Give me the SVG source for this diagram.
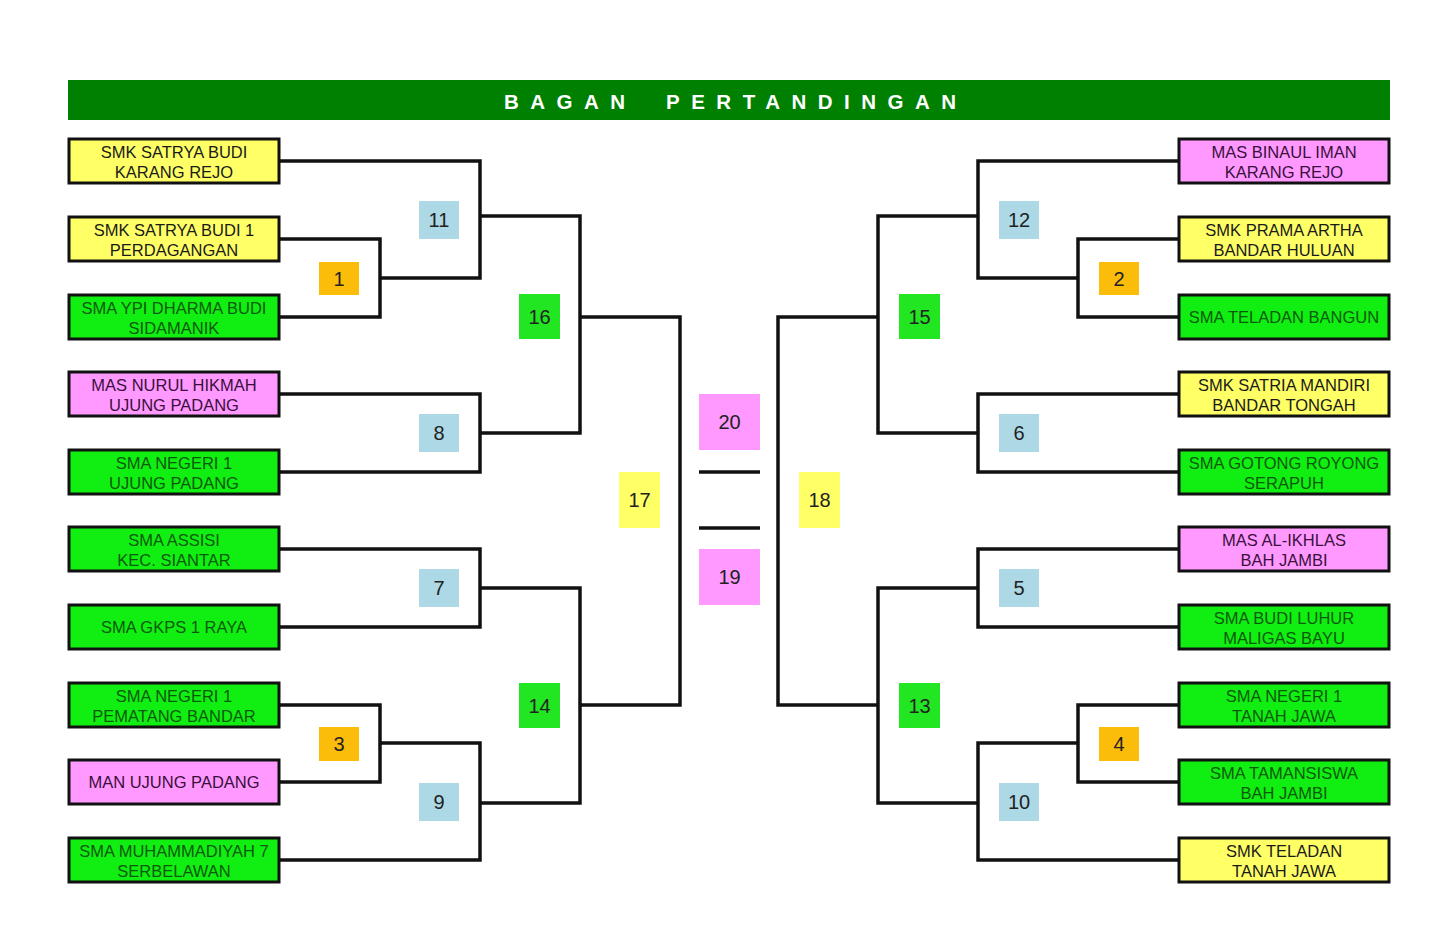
<svg xmlns="http://www.w3.org/2000/svg" width="1440" height="941" viewBox="0 0 1440 941">
<style>
.team rect{stroke:#111;stroke-width:3}
.team text{font-family:"Liberation Sans",Arial,sans-serif;font-size:16.5px;text-anchor:middle}
.y rect{fill:#ffff66}.y text{fill:#1a1a1a}
.g rect{fill:#11ee11}.g text{fill:#0b5a0b}
.p rect{fill:#ff99ff}.p text{fill:#3a0f3d}
.num rect{stroke:none}
.num text{font-family:"Liberation Sans",Arial,sans-serif;font-size:20px;text-anchor:middle;fill:#222}
.lb{fill:#add8e6}.or{fill:#fbbc0a}.gr{fill:#22e622}.ye{fill:#ffff66}.pk{fill:#ff99ff}
#connectors path,#connectors line{fill:none;stroke:#111;stroke-width:3.5}
</style>
<rect width="1440" height="941" fill="#ffffff"/>
<g id="header">
<rect x="68" y="80" width="1322" height="40" fill="#008000"/>
<text y="109" font-family="Liberation Sans,Arial,sans-serif" font-size="20.5" font-weight="bold" fill="#ffffff" letter-spacing="11.5"><tspan x="504">BAGAN</tspan><tspan x="666">PERTANDINGAN</tspan></text>
</g>
<g id="connectors">
<path d="M280,161 H480 V278 H380"/>
<path d="M280,239 H380 V317 H280"/>
<path d="M480,216 H580 V433 H480"/>
<path d="M280,394 H480 V472 H280"/>
<path d="M280,549 H480 V627 H280"/>
<path d="M480,588 H580 V803 H480"/>
<path d="M280,705 H380 V782 H280"/>
<path d="M380,743 H480 V860 H280"/>
<path d="M580,317 H680 V705 H580"/>
<path d="M1178,161 H978 V278 H1078"/>
<path d="M1178,239 H1078 V317 H1178"/>
<path d="M978,216 H878 V433 H978"/>
<path d="M1178,394 H978 V472 H1178"/>
<path d="M1178,549 H978 V627 H1178"/>
<path d="M978,588 H878 V803 H978"/>
<path d="M1178,705 H1078 V782 H1178"/>
<path d="M1078,743 H978 V860 H1178"/>
<path d="M878,317 H778 V705 H878"/>
<line x1="699" y1="472" x2="760" y2="472"/>
<line x1="699" y1="528" x2="760" y2="528"/>
</g>
<g id="L1" class="team y"><rect x="69" y="139" width="210" height="44"/><text x="174" y="158">SMK SATRYA BUDI</text><text x="174" y="178">KARANG REJO</text></g>
<g id="L2" class="team y"><rect x="69" y="217" width="210" height="44"/><text x="174" y="236">SMK SATRYA BUDI 1</text><text x="174" y="256">PERDAGANGAN</text></g>
<g id="L3" class="team g"><rect x="69" y="295" width="210" height="44"/><text x="174" y="314">SMA YPI DHARMA BUDI</text><text x="174" y="334">SIDAMANIK</text></g>
<g id="L4" class="team p"><rect x="69" y="372" width="210" height="44"/><text x="174" y="391">MAS NURUL HIKMAH</text><text x="174" y="411">UJUNG PADANG</text></g>
<g id="L5" class="team g"><rect x="69" y="450" width="210" height="44"/><text x="174" y="469">SMA NEGERI 1</text><text x="174" y="489">UJUNG PADANG</text></g>
<g id="L6" class="team g"><rect x="69" y="527" width="210" height="44"/><text x="174" y="546">SMA ASSISI</text><text x="174" y="566">KEC. SIANTAR</text></g>
<g id="L7" class="team g"><rect x="69" y="605" width="210" height="44"/><text x="174" y="633">SMA GKPS 1 RAYA</text></g>
<g id="L8" class="team g"><rect x="69" y="683" width="210" height="44"/><text x="174" y="702">SMA NEGERI 1</text><text x="174" y="722">PEMATANG BANDAR</text></g>
<g id="L9" class="team p"><rect x="69" y="760" width="210" height="44"/><text x="174" y="788">MAN UJUNG PADANG</text></g>
<g id="L10" class="team g"><rect x="69" y="838" width="210" height="44"/><text x="174" y="857">SMA MUHAMMADIYAH 7</text><text x="174" y="877">SERBELAWAN</text></g>
<g id="R1" class="team p"><rect x="1179" y="139" width="210" height="44"/><text x="1284" y="158">MAS BINAUL IMAN</text><text x="1284" y="178">KARANG REJO</text></g>
<g id="R2" class="team y"><rect x="1179" y="217" width="210" height="44"/><text x="1284" y="236">SMK PRAMA ARTHA</text><text x="1284" y="256">BANDAR HULUAN</text></g>
<g id="R3" class="team g"><rect x="1179" y="295" width="210" height="44"/><text x="1284" y="323">SMA TELADAN BANGUN</text></g>
<g id="R4" class="team y"><rect x="1179" y="372" width="210" height="44"/><text x="1284" y="391">SMK SATRIA MANDIRI</text><text x="1284" y="411">BANDAR TONGAH</text></g>
<g id="R5" class="team g"><rect x="1179" y="450" width="210" height="44"/><text x="1284" y="469">SMA GOTONG ROYONG</text><text x="1284" y="489">SERAPUH</text></g>
<g id="R6" class="team p"><rect x="1179" y="527" width="210" height="44"/><text x="1284" y="546">MAS AL-IKHLAS</text><text x="1284" y="566">BAH JAMBI</text></g>
<g id="R7" class="team g"><rect x="1179" y="605" width="210" height="44"/><text x="1284" y="624">SMA BUDI LUHUR</text><text x="1284" y="644">MALIGAS BAYU</text></g>
<g id="R8" class="team g"><rect x="1179" y="683" width="210" height="44"/><text x="1284" y="702">SMA NEGERI 1</text><text x="1284" y="722">TANAH JAWA</text></g>
<g id="R9" class="team g"><rect x="1179" y="760" width="210" height="44"/><text x="1284" y="779">SMA TAMANSISWA</text><text x="1284" y="799">BAH JAMBI</text></g>
<g id="R10" class="team y"><rect x="1179" y="838" width="210" height="44"/><text x="1284" y="857">SMK TELADAN</text><text x="1284" y="877">TANAH JAWA</text></g>
<g id="m1" class="num"><rect class="or" x="319" y="262" width="40" height="33"/><text x="339" y="285.5">1</text></g>
<g id="m2" class="num"><rect class="or" x="1099" y="262" width="40" height="33"/><text x="1119" y="285.5">2</text></g>
<g id="m3" class="num"><rect class="or" x="319" y="727" width="40" height="34"/><text x="339" y="751">3</text></g>
<g id="m4" class="num"><rect class="or" x="1099" y="727" width="40" height="34"/><text x="1119" y="751">4</text></g>
<g id="m5" class="num"><rect class="lb" x="999" y="569" width="40" height="38"/><text x="1019" y="595">5</text></g>
<g id="m6" class="num"><rect class="lb" x="999" y="414" width="40" height="38"/><text x="1019" y="440">6</text></g>
<g id="m7" class="num"><rect class="lb" x="419" y="569" width="40" height="38"/><text x="439" y="595">7</text></g>
<g id="m8" class="num"><rect class="lb" x="419" y="414" width="40" height="38"/><text x="439" y="440">8</text></g>
<g id="m9" class="num"><rect class="lb" x="419" y="783" width="40" height="38"/><text x="439" y="809">9</text></g>
<g id="m10" class="num"><rect class="lb" x="999" y="783" width="40" height="38"/><text x="1019" y="809">10</text></g>
<g id="m11" class="num"><rect class="lb" x="419" y="201" width="40" height="38"/><text x="439" y="227">11</text></g>
<g id="m12" class="num"><rect class="lb" x="999" y="201" width="40" height="38"/><text x="1019" y="227">12</text></g>
<g id="m13" class="num"><rect class="gr" x="899" y="683" width="41" height="45"/><text x="919.5" y="712.5">13</text></g>
<g id="m14" class="num"><rect class="gr" x="519" y="683" width="41" height="45"/><text x="539.5" y="712.5">14</text></g>
<g id="m15" class="num"><rect class="gr" x="899" y="294" width="41" height="45"/><text x="919.5" y="323.5">15</text></g>
<g id="m16" class="num"><rect class="gr" x="519" y="294" width="41" height="45"/><text x="539.5" y="323.5">16</text></g>
<g id="m17" class="num"><rect class="ye" x="619" y="472" width="41" height="56"/><text x="639.5" y="507">17</text></g>
<g id="m18" class="num"><rect class="ye" x="799" y="472" width="41" height="56"/><text x="819.5" y="507">18</text></g>
<g id="m19" class="num"><rect class="pk" x="699" y="549" width="61" height="56"/><text x="729.5" y="584">19</text></g>
<g id="m20" class="num"><rect class="pk" x="699" y="394" width="61" height="56"/><text x="729.5" y="429">20</text></g>
</svg>
